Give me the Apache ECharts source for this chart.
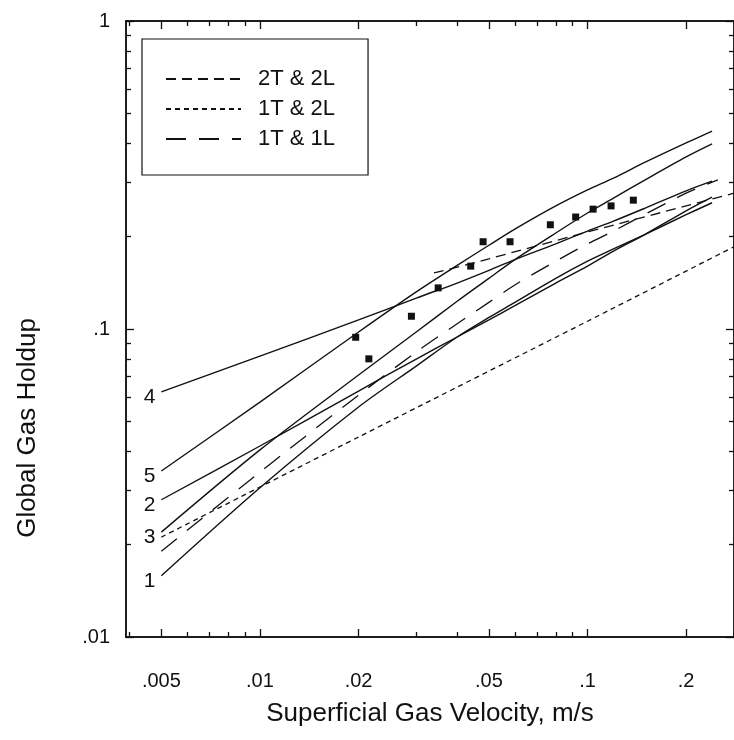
<!DOCTYPE html>
<html>
<head>
<meta charset="utf-8">
<title>Global Gas Holdup</title>
<script src="https://cdn.jsdelivr.net/npm/echarts@6/dist/echarts.min.js"></script>
<style>
  html, body { margin: 0; padding: 0; background: #fff; }
  #chart { width: 734px; height: 740px; }
</style>
</head>
<body>
<div id="chart"></div>
<script>
// superficial gas velocity (m/s) where the model curves were read
const uGrid = [0.005, 0.01, 0.02, 0.03, 0.04, 0.05, 0.06, 0.08, 0.1, 0.12, 0.15, 0.2, 0.24]
const curve1 = [0.0158, 0.0305, 0.0558, 0.0758, 0.0942, 0.109, 0.122, 0.146, 0.166, 0.182, 0.203, 0.235, 0.257]
const curve2 = [0.0279, 0.0417, 0.0629, 0.0799, 0.0942, 0.107, 0.119, 0.141, 0.160, 0.179, 0.203, 0.242, 0.268]
const curve3 = [0.0219, 0.0405, 0.0709, 0.0978, 0.123, 0.146, 0.168, 0.205, 0.238, 0.266, 0.305, 0.362, 0.399]
const curve4 = [0.0625, 0.0817, 0.107, 0.126, 0.141, 0.155, 0.168, 0.189, 0.208, 0.224, 0.247, 0.281, 0.302]
const curve5 = [0.0346, 0.0579, 0.0978, 0.132, 0.161, 0.187, 0.211, 0.251, 0.283, 0.309, 0.348, 0.402, 0.439]
const curveNames = ['1', '2', '3', '4', '5']

// dashed curves
const u1T1L = [0.005, 0.01, 0.02, 0.03, 0.04, 0.05, 0.06, 0.08, 0.1, 0.12, 0.15, 0.2, 0.25]
const holdup1T1L = [0.019, 0.0343, 0.061, 0.0842, 0.104, 0.122, 0.139, 0.166, 0.189, 0.208, 0.236, 0.276, 0.305]
const u1T2L = [0.005, 0.02, 0.1, 0.28]
const holdup1T2L = [0.0211, 0.0446, 0.106, 0.185]
const u2T2L = [0.034, 0.05, 0.1, 0.2, 0.28]
const holdup2T2L = [0.152, 0.169, 0.2065, 0.251, 0.276]

// measured points
const uMeasured = [0.0196, 0.0215, 0.029, 0.035, 0.044, 0.048, 0.058, 0.077, 0.092, 0.104, 0.118, 0.138]
const holdupMeasured = [0.094, 0.080, 0.110, 0.136, 0.160, 0.192, 0.192, 0.218, 0.231, 0.245, 0.251, 0.262]

// ticks
const xMajor = [0.005, 0.01, 0.02, 0.05, 0.1, 0.2]
const xMajorLabels = ['.005', '.01', '.02', '.05', '.1', '.2']
const xMinor = [0.004, 0.006, 0.007, 0.008, 0.009, 0.03, 0.04, 0.06, 0.07, 0.08, 0.09]
const yMajor = [0.01, 0.1, 1]
const yMajorLabels = ['.01', '.1', '1']
const yMinor = [0.02, 0.03, 0.04, 0.05, 0.06, 0.07, 0.08, 0.09, 0.2, 0.3, 0.4, 0.5, 0.6, 0.7, 0.8, 0.9]

const X_MIN = 0.0039
const X_MAX = 0.28
const FONT = '"Liberation Sans", Arial, Helvetica, sans-serif'
const INK = '#111'

const pickLabel = (values, labels) => v => {
  const i = values.findIndex(t => Math.abs(t - v) / t < 1e-4)
  return i < 0 ? '' : labels[i]
}

const logAxis = (position, min, max, ticks, len, label) => ({
  type: 'log',
  logBase: 10,
  position,
  min,
  max,
  axisLine: { show: true, lineStyle: { color: INK, width: 1.5 } },
  axisTick: { show: true, inside: true, length: len, customValues: ticks, lineStyle: { color: INK, width: 1.3 } },
  axisLabel: label || { show: false },
  splitLine: { show: false },
  minorTick: { show: false },
  silent: true
})

const xLabel = {
  show: true,
  customValues: xMajor,
  formatter: pickLabel(xMajor, xMajorLabels),
  fontFamily: FONT,
  fontSize: 20,
  color: INK,
  margin: 34
}
const yLabel = {
  show: true,
  customValues: yMajor,
  formatter: pickLabel(yMajor, yMajorLabels),
  fontFamily: FONT,
  fontSize: 20,
  color: INK,
  margin: 16
}

const bottomAxis = logAxis('bottom', X_MIN, X_MAX, xMajor, 8, xLabel)
bottomAxis.name = 'Superficial Gas Velocity, m/s'
bottomAxis.nameLocation = 'middle'
bottomAxis.nameGap = 64
bottomAxis.nameTextStyle = { fontFamily: FONT, fontSize: 26, color: INK }

const solidSeries = [curve1, curve2, curve3, curve4, curve5].map((vals, k) => ({
  name: 'curve ' + curveNames[k],
  type: 'line',
  data: uGrid.map((u, i) => [u, vals[i]]),
  symbol: 'none',
  smooth: 0.3,
  lineStyle: { color: INK, width: 1.4 },
  markPoint: {
    symbol: 'circle',
    symbolSize: 0,
    silent: true,
    data: [{ coord: [uGrid[0], vals[0]] }],
    label: {
      show: true,
      position: 'left',
      distance: 6,
      offset: [0, 5],
      formatter: curveNames[k],
      fontFamily: FONT,
      fontSize: 21,
      color: INK
    }
  }
}))

const dashed = (name, us, vals, dash) => ({
  name,
  type: 'line',
  data: us.map((u, i) => [u, vals[i]]),
  symbol: 'none',
  smooth: 0.3,
  color: INK,
  lineStyle: { color: INK, width: 1.3, type: dash }
})

const option = {
  animation: false,
  backgroundColor: '#fff',
  grid: { left: 126, top: 21, width: 609, height: 616 },
  xAxis: [
    bottomAxis,
    logAxis('bottom', X_MIN, X_MAX, xMinor, 5),
    logAxis('top', X_MIN, X_MAX, xMajor, 8),
    logAxis('top', X_MIN, X_MAX, xMinor, 5)
  ],
  yAxis: [
    logAxis('left', 0.01, 1, yMajor, 8, yLabel),
    logAxis('left', 0.01, 1, yMinor, 5),
    logAxis('right', 0.01, 1, yMajor, 8),
    logAxis('right', 0.01, 1, yMinor, 5)
  ],
  legend: {
    data: ['2T & 2L', '1T & 2L', '1T & 1L'],
    orient: 'vertical',
    left: 142,
    top: 39,
    padding: [29, 33, 25, 23],
    itemWidth: 75,
    itemHeight: 12,
    itemGap: 8,
    borderColor: INK,
    borderWidth: 1.2,
    selectedMode: false,
    itemStyle: { opacity: 0 },
    textStyle: { fontFamily: FONT, fontSize: 22, color: INK, padding: [0, 0, 0, 12] }
  },
  graphic: [{
    type: 'text',
    x: 28,
    y: 428,
    rotation: Math.PI / 2,
    style: {
      text: 'Global Gas Holdup',
      font: '26px ' + FONT,
      fill: INK,
      align: 'center',
      verticalAlign: 'middle'
    }
  }],
  series: [
    ...solidSeries,
    dashed('2T & 2L', u2T2L, holdup2T2L, [10, 6]),
    dashed('1T & 2L', u1T2L, holdup1T2L, [5, 4]),
    dashed('1T & 1L', u1T1L, holdup1T1L, [20, 13]),
    {
      name: 'measured',
      type: 'scatter',
      data: uMeasured.map((u, i) => [u, holdupMeasured[i]]),
      symbol: 'rect',
      symbolSize: 7,
      itemStyle: { color: INK, opacity: 1 }
    }
  ]
}

const myChart = echarts.init(document.getElementById('chart'))
myChart.setOption(option)
</script>
</body>
</html>
